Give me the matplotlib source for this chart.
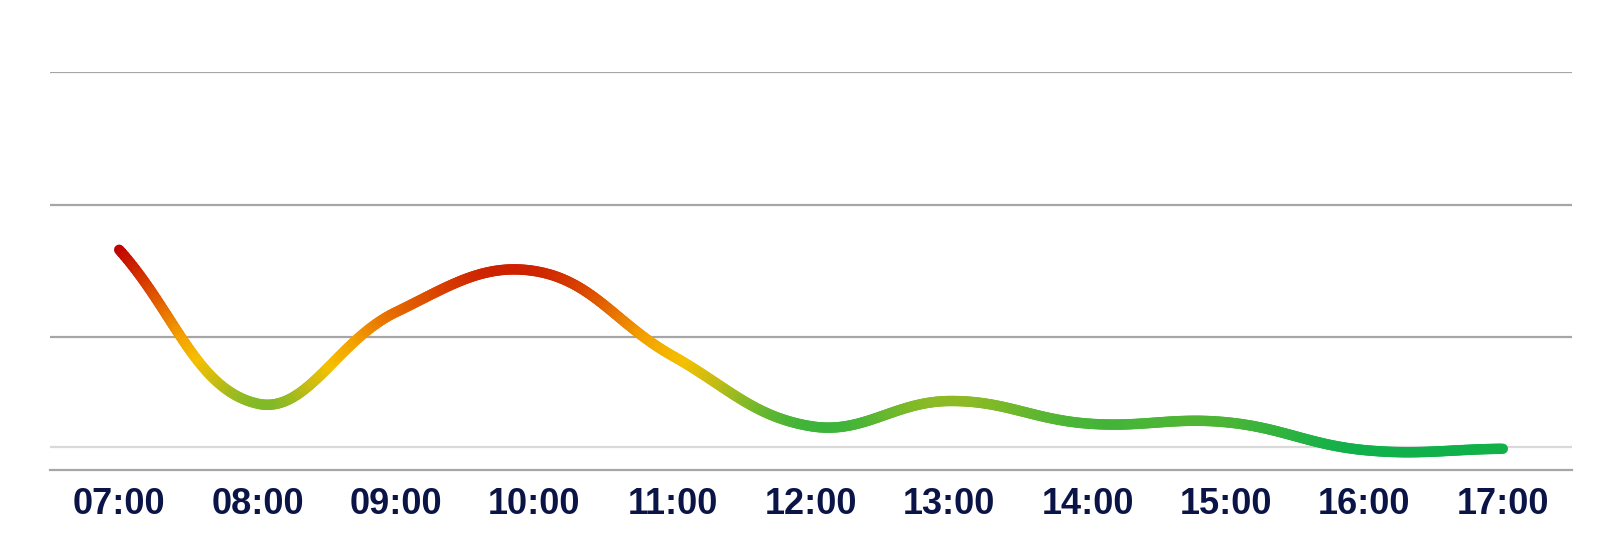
import numpy as np
import matplotlib
matplotlib.use("Agg")
import matplotlib.pyplot as plt
from matplotlib.collections import LineCollection
from matplotlib.colors import LinearSegmentedColormap

hours = ["07:00", "08:00", "09:00", "10:00", "11:00", "12:00",
         "13:00", "14:00", "15:00", "16:00", "17:00"]
values = [16.6, 5.0, 11.9, 15.0, 8.6, 3.3, 5.2, 3.5, 3.6, 1.5, 1.6]
grid_levels = [10, 20, 30]
ref_level = 1.75

# colour ramp follows the value: green low -> yellow -> red high
vmin, vmax = 1.5, 16.6
stops = [(1.5, "#10b04a"), (3.3, "#40b43a"), (5.0, "#85ba26"),
         (6.5, "#c8bc14"), (8.0, "#f5c000"), (10.0, "#f39d00"),
         (12.0, "#e56a00"), (14.0, "#d63a00"), (16.6, "#c00000")]
ramp = LinearSegmentedColormap.from_list(
    "ramp", [((v - vmin) / (vmax - vmin), c) for v, c in stops])


def bezier_curve(xs, ys, tension=0.4, sx=138.2, sy=13.3, n=60):
    # chart-style cubic spline, control points from neighbours (pixel space)
    px = np.array(xs, float) * sx
    py = np.array(ys, float) * sy
    m = len(px)
    cp_in, cp_out = [], []
    for i in range(m):
        p0 = (px[max(i - 1, 0)], py[max(i - 1, 0)])
        p1 = (px[i], py[i])
        p2 = (px[min(i + 1, m - 1)], py[min(i + 1, m - 1)])
        d01 = np.hypot(p1[0] - p0[0], p1[1] - p0[1])
        d12 = np.hypot(p2[0] - p1[0], p2[1] - p1[1])
        tot = d01 + d12
        s01 = d01 / tot if tot else 0
        s12 = d12 / tot if tot else 0
        fa, fb = tension * s01, tension * s12
        cp_in.append((p1[0] - fa * (p2[0] - p0[0]), p1[1] - fa * (p2[1] - p0[1])))
        cp_out.append((p1[0] + fb * (p2[0] - p0[0]), p1[1] + fb * (p2[1] - p0[1])))
    cx, cy = [], []
    t = np.linspace(0, 1, n)
    for i in range(m - 1):
        P0 = np.array([px[i], py[i]])
        P1 = np.array(cp_out[i])
        P2 = np.array(cp_in[i + 1])
        P3 = np.array([px[i + 1], py[i + 1]])
        pts = ((1 - t)[:, None] ** 3 * P0 + 3 * ((1 - t) ** 2 * t)[:, None] * P1
               + 3 * ((1 - t) * t ** 2)[:, None] * P2 + (t ** 3)[:, None] * P3)
        if i > 0:
            pts = pts[1:]
        cx.extend(pts[:, 0])
        cy.extend(pts[:, 1])
    return np.array(cx) / sx, np.array(cy) / sy


fig = plt.figure(figsize=(16.22, 5.52), dpi=100)
ax = fig.add_axes([50 / 1622, 82 / 552, 1522 / 1622, 398 / 552])

x = np.arange(len(hours))
cx, cy = bezier_curve(x, values)

for g in grid_levels:
    ax.axhline(g, color="#a6a6a6", lw=1.6, zorder=1)
ax.axhline(ref_level, color="#d9d9d9", lw=1.6, zorder=1)

pts = np.column_stack([cx, cy]).reshape(-1, 1, 2)
segs = np.concatenate([pts[:-1], pts[1:]], axis=1)
mid = (cy[:-1] + cy[1:]) / 2
lc = LineCollection(segs, colors=ramp((mid - vmin) / (vmax - vmin)),
                    linewidths=7.5, capstyle="round", joinstyle="round", zorder=3)
ax.add_collection(lc)

ax.set_xlim(-0.5, 10.5)
ax.set_ylim(0, 30)
ax.set_xticks(x)
ax.set_xticklabels(hours, fontsize=26, fontweight="bold", color="#0b1446",
                   family="Liberation Sans")
ax.set_yticks([])
ax.tick_params(axis="x", length=0, pad=12)
for s in ["top", "left", "right"]:
    ax.spines[s].set_visible(False)
ax.spines["bottom"].set_color("#a6a6a6")
ax.spines["bottom"].set_linewidth(1.6)

plt.savefig("out.png", dpi=100)
